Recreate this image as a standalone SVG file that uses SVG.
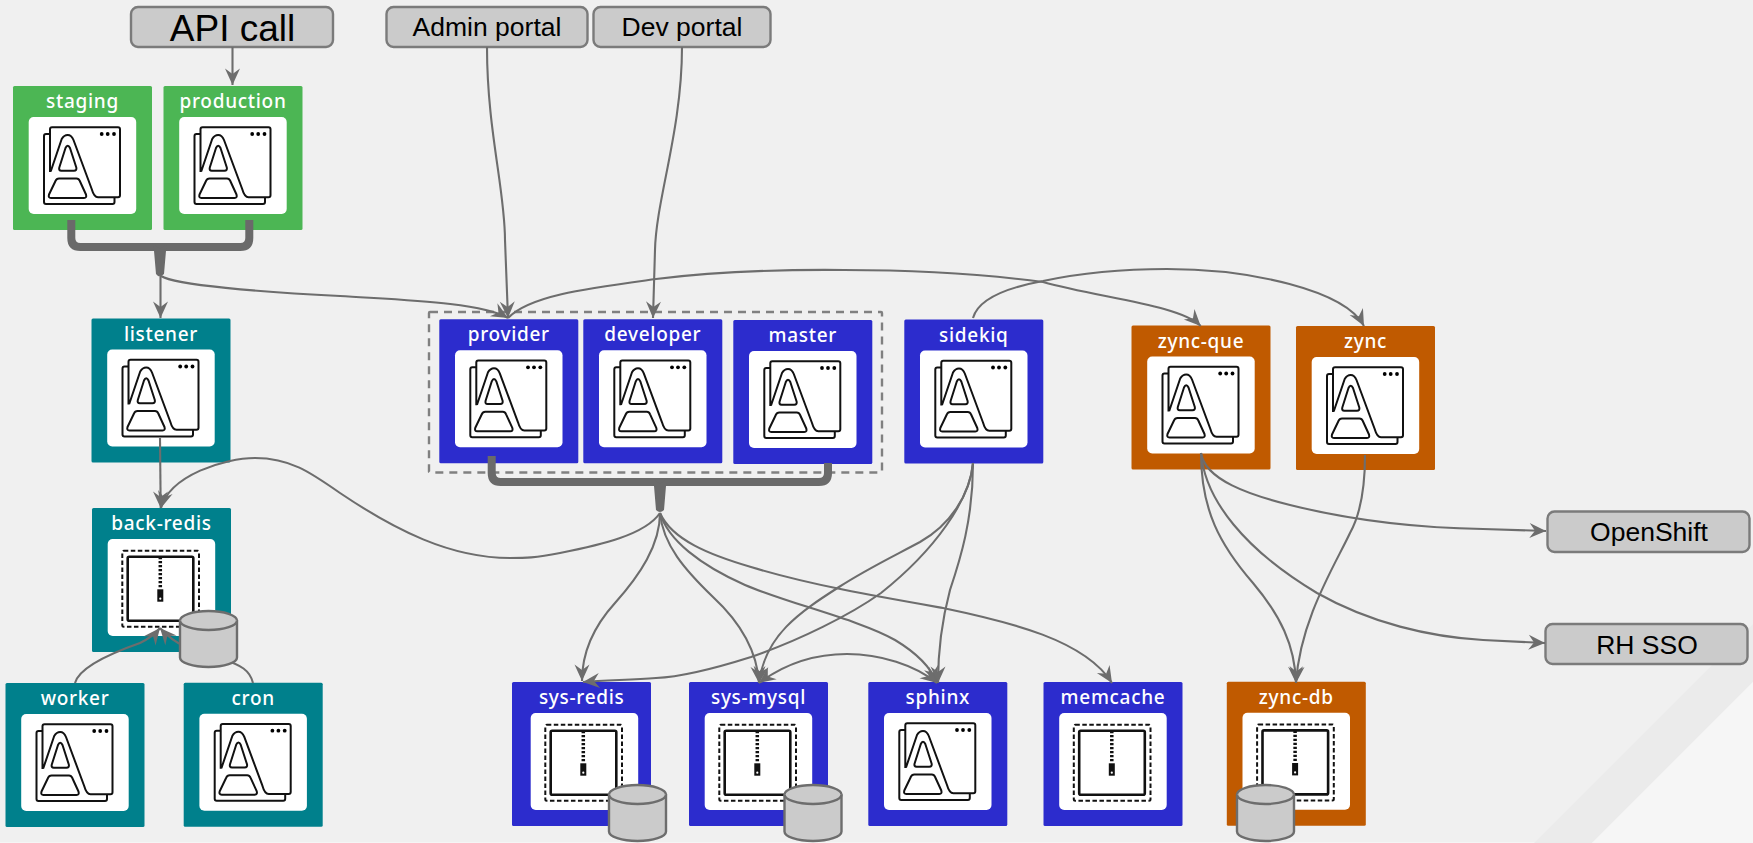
<svg xmlns="http://www.w3.org/2000/svg" width="1753" height="843" viewBox="0 0 1753 843">
<style>
.t{font-family:"Noto Sans","DejaVu Sans",sans-serif;font-size:19px;font-weight:500;fill:#fff;text-anchor:middle;letter-spacing:.7px}
.b{font-family:"Liberation Sans",Arial,sans-serif;fill:#000;text-anchor:middle}
.box{fill:#cbcbcb;stroke:#7b7b7b;stroke-width:2.4}
.green{fill:#4cb654}.teal{fill:#00808c}.blue{fill:#2c2ccd}.orange{fill:#c05a00}
.w{fill:#fff}
.i{fill:none;stroke:#111;stroke-width:2;stroke-linejoin:round}
.c{fill:none;stroke:#6d6d6d;stroke-width:2.1}
.th{fill:none;stroke:#6a6a6a;stroke-width:8}
.cyl{fill:#cbcbcb;stroke:#6d6d6d;stroke-width:2.4}
</style>
<defs>
<marker id="a" markerUnits="userSpaceOnUse" markerWidth="20" markerHeight="20" refX="17" refY="9" orient="auto-start-reverse"><path d="M17,9L.5,1.500L6,9L.5,16.500Z" fill="#6d6d6d"/></marker>
<g id="app"><rect class="w" x="15.700" y="31" width="107.500" height="97" rx="5"/>
<path class="i" d="M37,48H33q-2,0-2,2V116q0,2,2,2H99.500q2,0,2-2V111.300"/>
<path class="i" d="M37,86V43.300q0-2,2-2H105q2,0,2,2V109.300q0,2-2,2H85Q81,111.300,78.700,103L60.500,54Q58.500,49,54.700,49Q51,49,48.700,53L37.700,85.500"/>
<path class="i" d="M54.700,59.700Q56,59.700,57,62L63.300,81.500Q64,84.700,61,84.700H48.300Q45.500,84.700,46.300,81.500L52.500,62Q53.500,59.700,54.700,59.700Z"/>
<path class="i" d="M46,92.500H63.500Q65.800,92.500,66.800,95L73,108.500Q74,112,71,112H38Q35,112,36,108.500L42.500,95Q43.500,92.500,46,92.500Z"/>
<circle cx="88.700" cy="48" r="1.900"/><circle cx="94.700" cy="48" r="1.900"/><circle cx="101" cy="48" r="1.900"/></g>
<g id="store"><rect class="w" x="15.700" y="31" width="107.500" height="97" rx="5"/>
<rect x="30.300" y="42.700" width="76.700" height="76" rx="1.500" fill="none" stroke="#111" stroke-width="2" stroke-dasharray="4.500 2.500"/>
<rect x="35.700" y="48.700" width="65.600" height="64" rx="1.500" fill="none" stroke="#111" stroke-width="2.600"/>
<path d="M68.300,49V81" stroke="#111" stroke-width="3.500" stroke-dasharray="2.200 1.800" fill="none"/>
<rect x="65.300" y="81.300" width="6" height="12.400" fill="#111"/><circle cx="68.300" cy="90.700" r="1.100" fill="#fff"/></g>
</defs>
<rect width="1753" height="843" fill="#f0f0f0"/>
<rect y="842" width="1753" height="1" fill="#f5f5f5"/>
<path d="M1534,843L1753,624V682L1592,843Z" fill="#ebebeb"/>
<path d="M1592,843L1753,682V843Z" fill="#f6f6f6"/>

<g id="api-call"><rect class="box" x="131" y="7" width="202" height="40" rx="7"/><text class="b" x="232.500" y="41" font-size="37">API call</text></g>
<g id="admin-portal"><rect class="box" x="386.500" y="7" width="201" height="40" rx="7"/><text class="b" x="487" y="36" font-size="26.500">Admin portal</text></g>
<g id="dev-portal"><rect class="box" x="593.500" y="7" width="177" height="40" rx="7"/><text class="b" x="682" y="36" font-size="26.500">Dev portal</text></g>
<g id="openshift"><rect class="box" x="1547.500" y="511.500" width="202" height="40.500" rx="7"/><text class="b" x="1649" y="541" font-size="26.500">OpenShift</text></g>
<g id="rh-sso"><rect class="box" x="1545.500" y="624" width="202" height="40" rx="7"/><text class="b" x="1647" y="654" font-size="26.500">RH SSO</text></g>

<rect id="group-frame" x="429" y="312" width="453" height="160.500" rx="1" fill="none" stroke="#808080" stroke-width="2.400" stroke-dasharray="8 6"/>

<g id="staging" transform="translate(13,86)"><rect class="green" width="139" height="144" rx="1.500"/><use href="#app"/><text class="t" x="69.500" y="22">staging</text></g>
<g id="production" transform="translate(163.500,86)"><rect class="green" width="139" height="144" rx="1.500"/><use href="#app"/><text class="t" x="69.500" y="22">production</text></g>
<g id="listener" transform="translate(91.500,318.500)"><rect class="teal" width="139" height="144" rx="1.500"/><use href="#app"/><text class="t" x="69.500" y="22">listener</text></g>
<g id="back-redis" transform="translate(92,508)"><rect class="teal" width="139" height="144" rx="1.500"/><use href="#store"/><text class="t" x="69.500" y="22">back-redis</text></g>
<g id="worker" transform="translate(5.500,683)"><rect class="teal" width="139" height="144" rx="1.500"/><use href="#app"/><text class="t" x="69.500" y="22">worker</text></g>
<g id="cron" transform="translate(183.700,682.700)"><rect class="teal" width="139" height="144" rx="1.500"/><use href="#app"/><text class="t" x="69.500" y="22">cron</text></g>
<g id="provider" transform="translate(439.300,319.300)"><rect class="blue" width="139" height="144" rx="1.500"/><use href="#app"/><text class="t" x="69.500" y="22">provider</text></g>
<g id="developer" transform="translate(583.300,319.300)"><rect class="blue" width="139" height="144" rx="1.500"/><use href="#app"/><text class="t" x="69.500" y="22">developer</text></g>
<g id="master" transform="translate(733.300,320)"><rect class="blue" width="139" height="144" rx="1.500"/><use href="#app"/><text class="t" x="69.500" y="22">master</text></g>
<g id="sidekiq" transform="translate(904.300,319.500)"><rect class="blue" width="139" height="144" rx="1.500"/><use href="#app"/><text class="t" x="69.500" y="22">sidekiq</text></g>
<g id="zync-que" transform="translate(1131.500,325.500)"><rect class="orange" width="139" height="144" rx="1.500"/><use href="#app"/><text class="t" x="69.500" y="22">zync-que</text></g>
<g id="zync" transform="translate(1296,326)"><rect class="orange" width="139" height="144" rx="1.500"/><use href="#app"/><text class="t" x="69.500" y="22">zync</text></g>
<g id="sys-redis" transform="translate(512,682)"><rect class="blue" width="139" height="144" rx="1.500"/><use href="#store" x="3"/><text class="t" x="69.700" y="22">sys-redis</text></g>
<g id="sys-mysql" transform="translate(689,682)"><rect class="blue" width="139" height="144" rx="1.500"/><use href="#store"/><text class="t" x="69.500" y="22">sys-mysql</text></g>
<g id="sphinx" transform="translate(868.300,682)"><rect class="blue" width="139" height="144" rx="1.500"/><use href="#app"/><text class="t" x="69.500" y="22">sphinx</text></g>
<g id="memcache" transform="translate(1043.500,682)"><rect class="blue" width="139" height="144" rx="1.500"/><use href="#store"/><text class="t" x="69.500" y="22">memcache</text></g>
<g id="zync-db" transform="translate(1226.800,681.700)"><rect class="orange" width="139" height="144" rx="1.500"/><use href="#store"/><text class="t" x="69.500" y="22">zync-db</text></g>

<g id="connectors">
<path class="th" d="M71.300,220V238q0,9,9,9H160M249.300,220V238q0,9-9,9H160"/>
<path d="M153.500,245L160,248.500L166.500,245L164,274Q161,277,158,276L156,274Z" fill="#6a6a6a"/>
<path class="th" d="M491.700,456V473q0,9,9,9H660M828,463V473q0,9-9,9H660"/>
<path d="M653.500,480L660,483.500L666.500,480L664,510Q660,514,656,510Z" fill="#6a6a6a"/>
<g marker-end="url(#a)">
<path class="c" d="M232.500,47V85"/>
<path class="c" d="M160.500,275V318"/>
<path class="c" d="M161,276C175,285,260,292,340,296C400,300,480,302,508,318"/>
<path class="c" d="M487,47C487,130,505,190,505,240C506,270,507,295,508,318"/>
<path class="c" d="M682,47C682,130,656,200,655,250L653,318"/>
<path class="c" d="M508,318C530,295,590,288,656,279C720,271,790,269.500,844,270C920,270,990,275,1043,282C1100,298,1180,305,1200.700,326"/>
<path class="c" d="M973,318C978,300,1005,288,1043,281C1085,272,1130,269,1167,269C1250,269,1345,290,1364,326"/>
<path class="c" d="M160,438L160.700,508"/>
<path class="c" d="M660,513C645,535,600,545,560,553C535,558,525,558,510,558C450,558,395,530,340,493C310,472,290,458,255,458C225,458,170,475,161,508"/>
<path class="c" d="M660,513C660,545,640,575,615,603C595,625,582,650,582,681"/>
<path class="c" d="M660,513C663,545,685,570,713,597C740,622,757,650,759,683"/>
<path class="c" d="M660,513C668,540,700,565,745,585C790,604,860,620,895,640C915,652,930,665,937,683"/>
<path class="c" d="M660,513C672,540,710,555,751,567C810,585,880,597,943,608C1010,622,1085,640,1112,683"/>
<path class="c" d="M973,463C973,520,960,560,950,590C942,620,938,650,938,683"/>
<path class="c" d="M973,463C970,495,950,525,920,542C890,558,865,570,839,587C800,612,765,635,759,683"/>
<path class="c" d="M973,463C970,500,935,550,881,593C850,615,800,640,751,657C710,670,680,677,656,678C630,680,605,680,583,682"/>
<path class="c" marker-start="url(#a)" d="M759,683C790,660,820,654,847,654C880,654,915,665,937,683"/>
<path class="c" d="M75,683C80,665,120,650,140,643C150,638,156,633,160,628"/>
<path class="c" d="M253,683C250,670,240,665,225,660C200,655,175,645,160,628"/>
<path class="c" d="M1201,453C1205,480,1250,495,1290,505C1350,520,1420,528,1483,529L1546,531"/>
<path class="c" d="M1201,453C1205,500,1245,550,1317,593C1370,623,1430,637,1483,640L1545,643"/>
<path class="c" d="M1201,453C1201,510,1220,545,1253,583C1280,615,1295,645,1296,683"/>
<path class="c" d="M1365,455C1365,490,1360,515,1350,533C1335,565,1300,620,1296,683"/>
</g>
</g>

<g id="back-redis-store" transform="translate(180,611)"><path class="cyl" d="M0,9.500A28.500,9.500,0,0,1,57,9.500V46.500A28.500,9.500,0,0,1,0,46.500Z"/><path class="cyl" d="M0,9.500A28.500,9.500,0,0,0,57,9.500" fill="none"/></g>
<g id="sys-redis-store" transform="translate(609,785)"><path class="cyl" d="M0,9.500A28.500,9.500,0,0,1,57,9.500V46.500A28.500,9.500,0,0,1,0,46.500Z"/><path class="cyl" d="M0,9.500A28.500,9.500,0,0,0,57,9.500" fill="none"/></g>
<g id="sys-mysql-store" transform="translate(784.500,785)"><path class="cyl" d="M0,9.500A28.500,9.500,0,0,1,57,9.500V46.500A28.500,9.500,0,0,1,0,46.500Z"/><path class="cyl" d="M0,9.500A28.500,9.500,0,0,0,57,9.500" fill="none"/></g>
<g id="zync-db-store" transform="translate(1237,785)"><path class="cyl" d="M0,9.500A28.500,9.500,0,0,1,57,9.500V46.500A28.500,9.500,0,0,1,0,46.500Z"/><path class="cyl" d="M0,9.500A28.500,9.500,0,0,0,57,9.500" fill="none"/></g>
</svg>
